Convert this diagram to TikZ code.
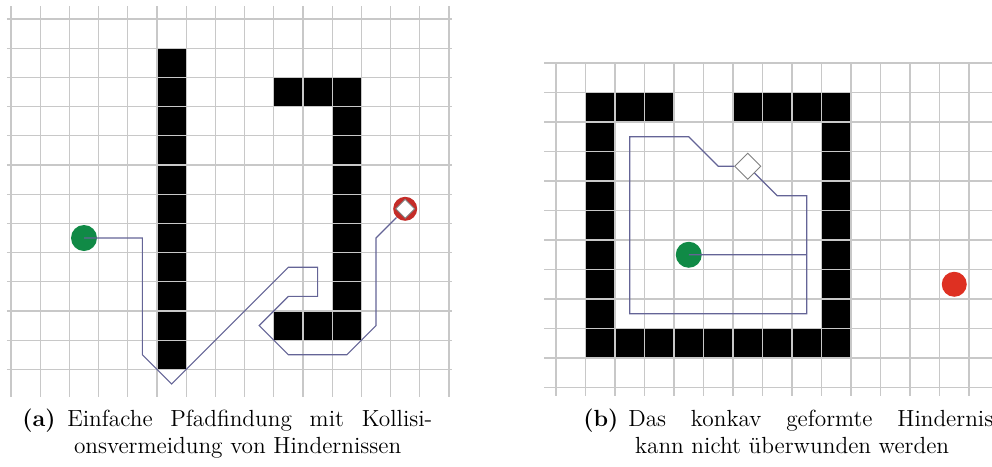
\documentclass[tikz,border=0pt]{standalone}
\usepackage{tikz}
\usetikzlibrary{positioning}
\definecolor{gitter}{RGB}{200,200,200}
\definecolor{pfadblau}{RGB}{100,100,150}
\definecolor{startgruen}{RGB}{16,138,70}
\definecolor{zielrot}{RGB}{222,48,34}
\definecolor{zieldunkel}{RGB}{196,44,40}
\tikzset{
  gitterlinie/.style={draw=gitter, line width=0.75pt},
  wand/.style={fill=black},
  pfad/.style={draw=pfadblau, line width=0.7pt},
  startpunkt/.style={circle, fill=startgruen, minimum size=15.6pt, inner sep=0pt},
  zielpunkt/.style={circle, fill=zielrot, minimum size=15pt, inner sep=0pt},
  zielring/.style={circle, fill=zieldunkel, minimum size=14.4pt, inner sep=0pt},
  raute/.style={rectangle, rotate=45, draw=gray, fill=white, line width=0.5pt, minimum size=#1, inner sep=0pt},
  caplabel/.style={anchor=base west, inner sep=0pt, font=\fontsize{14}{17}\selectfont\bfseries},
  captext/.style={anchor=base west, inner sep=0pt, font=\fontsize{14}{17}\selectfont}
}
\begin{document}
\begin{tikzpicture}[x=0.6pt, y=-0.6pt]
  \useasboundingbox (0,0) rectangle (992,466);

  % (a)
  \begin{scope}[shift={(11,19)}, x=17.52pt, y=-17.52pt]
    \fill[wand] (5,1) rectangle (6,12);
    \fill[wand] (9,2) rectangle (12,3);
    \fill[wand] (11,2) rectangle (12,11);
    \fill[wand] (9,10) rectangle (12,11);
    \foreach \i in {0,...,15}
      \draw[gitterlinie] (\i,-0.445) -- (\i,12.95);
    \foreach \j in {0,...,12}
      \draw[gitterlinie] (-0.137,\j) -- (15.1,\j);

    \node[startpunkt] (starta) at (2.5,7.5) {};
    \node[zielring] (ziela) at (13.5,6.5) {};
    \node[raute=8pt] (rautea) at (13.5,6.5) {};
    \draw[pfad] (starta.center) -- (4.5,7.5) -- (4.5,11.5) -- (5.5,12.5) -- (9.5,8.5)
      -- (10.5,8.5) -- (10.5,9.5) -- (9.5,9.5) -- (8.5,10.5) -- (9.5,11.5)
      -- (11.5,11.5) -- (12.5,10.5) -- (12.5,7.5) -- (ziela);
  \end{scope}

  % (b)
  \begin{scope}[shift={(556,63)}, x=17.7pt, y=-17.7pt]
    \fill[wand] (1,1) rectangle (4,2);
    \fill[wand] (6,1) rectangle (10,2);
    \fill[wand] (1,1) rectangle (2,10);
    \fill[wand] (9,1) rectangle (10,10);
    \fill[wand] (1,9) rectangle (10,10);
    \foreach \i in {0,...,14}
      \draw[gitterlinie] (\i,0) -- (\i,11.29);
    \foreach \j in {0,...,11}
      \draw[gitterlinie] (-0.407,\j) -- (14.78,\j);

    \node[startpunkt] (startb) at (4.5,6.5) {};
    \node[zielpunkt] (zielb) at (13.5,7.5) {};
    \node[raute=11pt] (rauteb) at (6.5,3.5) {};
    \draw[pfad] (startb.center) -- (8.5,6.5) -- (8.5,4.5) -- (7.5,4.5) -- (rauteb)
      -- (5.5,3.5) -- (4.5,2.5) -- (2.5,2.5) -- (2.5,8.5) -- (8.5,8.5) -- (8.5,6.5);
  \end{scope}

  \node[caplabel] (laba) at (22,426) {(a)};
  \node[captext] (zeilea1) at (67,426) {\makebox[219pt][s]{Einfache Pfadfindung mit Kollisi-}};
  \node[captext, below=16.2pt of zeilea1.base west, anchor=base west, xshift=4pt] (zeilea2) {onsvermeidung von Hindernissen};
  \node[caplabel] (labb) at (583,426) {(b)};
  \node[captext] (zeileb1) at (628,426) {\makebox[219pt][s]{Das konkav geformte Hindernis}};
  \node[captext, below=16.2pt of zeileb1.base west, anchor=base west, xshift=4pt] (zeileb2) {kann nicht überwunden werden};
\end{tikzpicture}
\end{document}
